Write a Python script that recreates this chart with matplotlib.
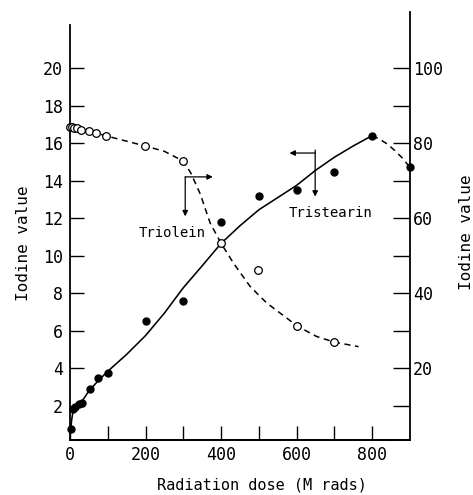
import numpy as np
import matplotlib.pyplot as plt

# Tristearin: filled circles, left axis
tristearin_x = [2, 9, 13, 25, 31, 53, 75, 101, 200, 300, 400, 500, 600, 700, 800, 900]
tristearin_y = [0.75, 1.83, 1.97, 2.09, 2.18, 2.89, 3.48, 3.74, 6.5, 7.6, 11.8, 13.2, 13.5, 14.45, 16.4, 14.7]
# hand drawn curve through them (solid part, then dashed tail)
tristearin_curve_x = [2, 4, 7, 12, 20, 30, 50, 75, 100, 150, 200, 250, 300, 345, 400, 450, 500, 550, 600, 650, 700, 750, 800]
tristearin_curve_y = [0.75, 1.2, 1.6, 1.85, 2.0, 2.2, 2.8, 3.35, 3.85, 4.75, 5.75, 6.95, 8.3, 9.35, 10.66, 11.6, 12.45, 13.1, 13.75, 14.55, 15.25, 15.85, 16.4]
tristearin_tail_x = [800, 820, 840, 860, 880, 900]
tristearin_tail_y = [16.4, 16.2, 15.95, 15.6, 15.2, 14.7]

# Triolein: open circles, right axis
triolein_x = [0, 4, 10, 18, 28, 49, 70, 96, 198, 298, 400, 497, 601, 700]
triolein_y = [84.4, 84.3, 84.1, 83.9, 83.5, 83.25, 82.75, 81.9, 79.3, 75.3, 53.3, 46.2, 31.3, 27.0]
triolein_curve_x = [0, 50, 100, 150, 200, 250, 300, 320, 345, 371, 400, 433, 477, 521, 574, 601, 653, 700, 764]
triolein_curve_y = [84.4, 83.2, 81.8, 80.5, 79.2, 77.8, 75.2, 72.0, 66.4, 58.7, 53.3, 48.0, 41.8, 37.4, 33.4, 31.3, 28.5, 27.0, 25.8]

left_ticks = [2, 4, 6, 8, 10, 12, 14, 16, 18, 20]
right_ticks = [10, 20, 30, 40, 50, 60, 70, 80, 90, 100]
right_labels = ['', '20', '', '40', '', '60', '', '80', '', '100']
x_ticks = [0, 100, 200, 300, 400, 500, 600, 700, 800]
x_labels = ['0', '', '200', '', '400', '', '600', '', '800']

mono = 'DejaVu Sans Mono'
plt.rcParams['font.family'] = mono

fig = plt.figure(figsize=(4.73, 4.95), dpi=100)
ax = fig.add_axes([70/473, 1-440/495, 340/473, 428/495])
ax2 = ax.twinx()

ylo, yhi = 0.19, 22.98
ax.set_xlim(0, 900)
ax.set_ylim(ylo, yhi)
ax2.set_ylim(ylo*5, yhi*5)

# tristearin
ax.plot(tristearin_curve_x, tristearin_curve_y, color='black', lw=1.15)
ax.plot(tristearin_tail_x, tristearin_tail_y, color='black', lw=1.1, ls=(0, (4, 3)))
ax.plot(tristearin_x, tristearin_y, 'o', color='black', ms=5, clip_on=False, zorder=5)

# triolein
ax2.plot(triolein_curve_x, triolein_curve_y, color='black', lw=1.1, ls=(0, (4, 3)))
ax2.plot(triolein_x, triolein_y, 'o', mfc='white', mec='black', mew=0.9, ms=5.5,
         clip_on=False, zorder=5)

# arrows showing which axis each series belongs to
arr = dict(arrowstyle='-|>', lw=0.9, color='black', mutation_scale=8, shrinkA=0, shrinkB=0)
ax.annotate('', xy=(305, 12.1), xytext=(305, 14.2), arrowprops=arr)
ax.annotate('', xy=(378, 14.2), xytext=(305, 14.2), arrowprops=arr)
ax.text(270, 11.2, 'Triolein', ha='center', va='center', fontsize=10)

ax.annotate('', xy=(649, 13.15), xytext=(649, 15.63), arrowprops=arr)
ax.annotate('', xy=(581, 15.47), xytext=(649, 15.47), arrowprops=arr)
ax.text(689, 12.27, 'Tristearin', ha='center', va='center', fontsize=10)

# spines
for a in (ax, ax2):
    a.spines['top'].set_visible(False)
    a.spines['left'].set_linewidth(1.3)
    a.spines['right'].set_linewidth(1.3)
    a.spines['bottom'].set_linewidth(1.3)
ax.spines['right'].set_visible(False)
ax2.spines['left'].set_visible(False)
ax.spines['left'].set_bounds(ylo, 22.3)

ax.set_yticks(left_ticks)
ax.set_yticklabels([str(t) for t in left_ticks])
ax.set_xticks(x_ticks)
ax.set_xticklabels(x_labels)
ax2.set_yticks(right_ticks)
ax2.set_yticklabels(right_labels)

ax.tick_params(axis='y', direction='in', length=10, width=1, pad=5, labelsize=12)
ax.tick_params(axis='x', direction='in', length=10, width=1, pad=4, labelsize=12)
ax2.tick_params(axis='y', direction='in', length=12, width=1, pad=2, labelsize=12)

fig.text(24/473, 1-243/495, 'Iodine value', rotation=90, ha='center', va='center', fontsize=11.5)
fig.text(466/473, 1-232/495, 'Iodine value', rotation=90, ha='center', va='center', fontsize=11.5)
fig.text(262/473, 1-485/495, 'Radiation dose (M rads)', ha='center', va='center', fontsize=11)

fig.savefig('out.png', dpi=100)
